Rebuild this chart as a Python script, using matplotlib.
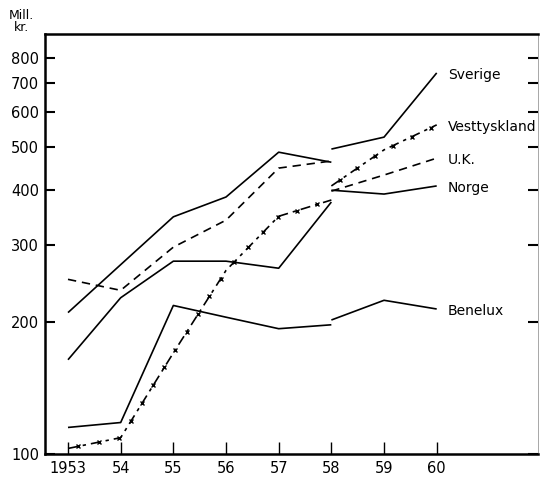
# -*- coding: utf-8 -*-
# Eksport, mill. kr., log-skala 1953-60
import matplotlib
matplotlib.use('Agg')
import matplotlib.pyplot as plt
import numpy as np

# Data (lest av figuren), brudd i seriene i 1958
years_a = [1953, 1954, 1955, 1956, 1957, 1958]
years_b = [1958, 1959, 1960]
sverige_a = [210, 270, 347, 385, 487, 462]
sverige_b = [495, 527, 738]
uk_a = [250, 236, 296, 341, 448, 465]
uk_b = [397, 432, 472]
norge_a = [164, 227, 275, 275, 265, 375]
norge_b = [399, 391, 408]
vest_a = [103, 109, 170, 262, 348, 379]
vest_b = [408, 493, 562]
benelux_a = [115, 118, 218, 205, 193, 197]
benelux_b = [202, 224, 214]

yticks = [100, 200, 300, 400, 500, 600, 700, 800]
xticks = [1953, 1954, 1955, 1956, 1957, 1958, 1959, 1960]
xticklabels = ['1953', '54', '55', '56', '57', '58', '59', '60']

plt.rcParams['font.family'] = ['DejaVu Sans']
fs = 10
lw = 1.2

fig = plt.figure(figsize=(5.4, 4.79), dpi=100)
ax = fig.add_axes([0.083, 0.052, 0.913, 0.877])
ax.set_yscale('log')
ax.set_xlim(1952.56, 1961.92)
ax.set_ylim(100, 905)

# Linjer
for ya, yb in [(sverige_a, sverige_b), (norge_a, norge_b), (benelux_a, benelux_b)]:
    ax.plot(years_a, ya, color='black', lw=lw, solid_capstyle='butt')
    ax.plot(years_b, yb, color='black', lw=lw, solid_capstyle='butt')
ax.plot(years_a, uk_a, color='black', lw=lw, dashes=(5, 3.5))
ax.plot(years_b, uk_b, color='black', lw=lw, dashes=(5, 3.5))


def crosses(xs, ys, step=21.0):
    # kryss langs linja, jevnt fordelt i piksler
    pts = ax.transData.transform(np.column_stack([xs, ys]))
    seg = np.hypot(np.diff(pts[:, 0]), np.diff(pts[:, 1]))
    s = np.concatenate([[0], np.cumsum(seg)])
    d = np.arange(step * 0.5, s[-1], step)
    px = np.interp(d, s, pts[:, 0])
    py = np.interp(d, s, pts[:, 1])
    return ax.transData.inverted().transform(np.column_stack([px, py]))


for xs, yy in [(years_a, vest_a), (years_b, vest_b)]:
    ax.plot(xs, yy, color='black', lw=lw, dashes=(6, 3, 2, 3))
    c = crosses(xs, yy)
    ax.plot(c[:, 0], c[:, 1], ls='none', marker='x', ms=3.5, mew=1.0,
            color='black')

# Navn ved linjeslutt
names = [('Sverige', sverige_b), ('Vesttyskland', vest_b), ('U.K.', uk_b),
         ('Norge', norge_b), ('Benelux', benelux_b)]
for name, yy in names:
    ax.text(years_b[-1] + 0.21, yy[-1] * 0.99, name, fontsize=fs,
            va='center', ha='left')

# Akser
ax.set_yticks(yticks)
ax.set_yticklabels([str(v) for v in yticks], fontsize=10.5)
ax.yaxis.set_minor_locator(matplotlib.ticker.NullLocator())
ax.set_xticks(xticks)
ax.set_xticklabels(xticklabels, fontsize=10.5)
ax.tick_params(axis='y', direction='in', length=7, width=1.5, pad=4,
               right=True, left=True)
ax.tick_params(axis='x', direction='in', length=9, width=1.0, pad=5)
for side in ['left', 'bottom', 'top']:
    ax.spines[side].set_linewidth(1.8)
ax.spines['right'].set_linewidth(0.6)
ax.spines['right'].set_color('#999999')

fig.text(0.039, 0.982, 'Mill.\nkr.', fontsize=9, ha='center', va='top',
         linespacing=0.95)

plt.savefig('out.png', dpi=100)
